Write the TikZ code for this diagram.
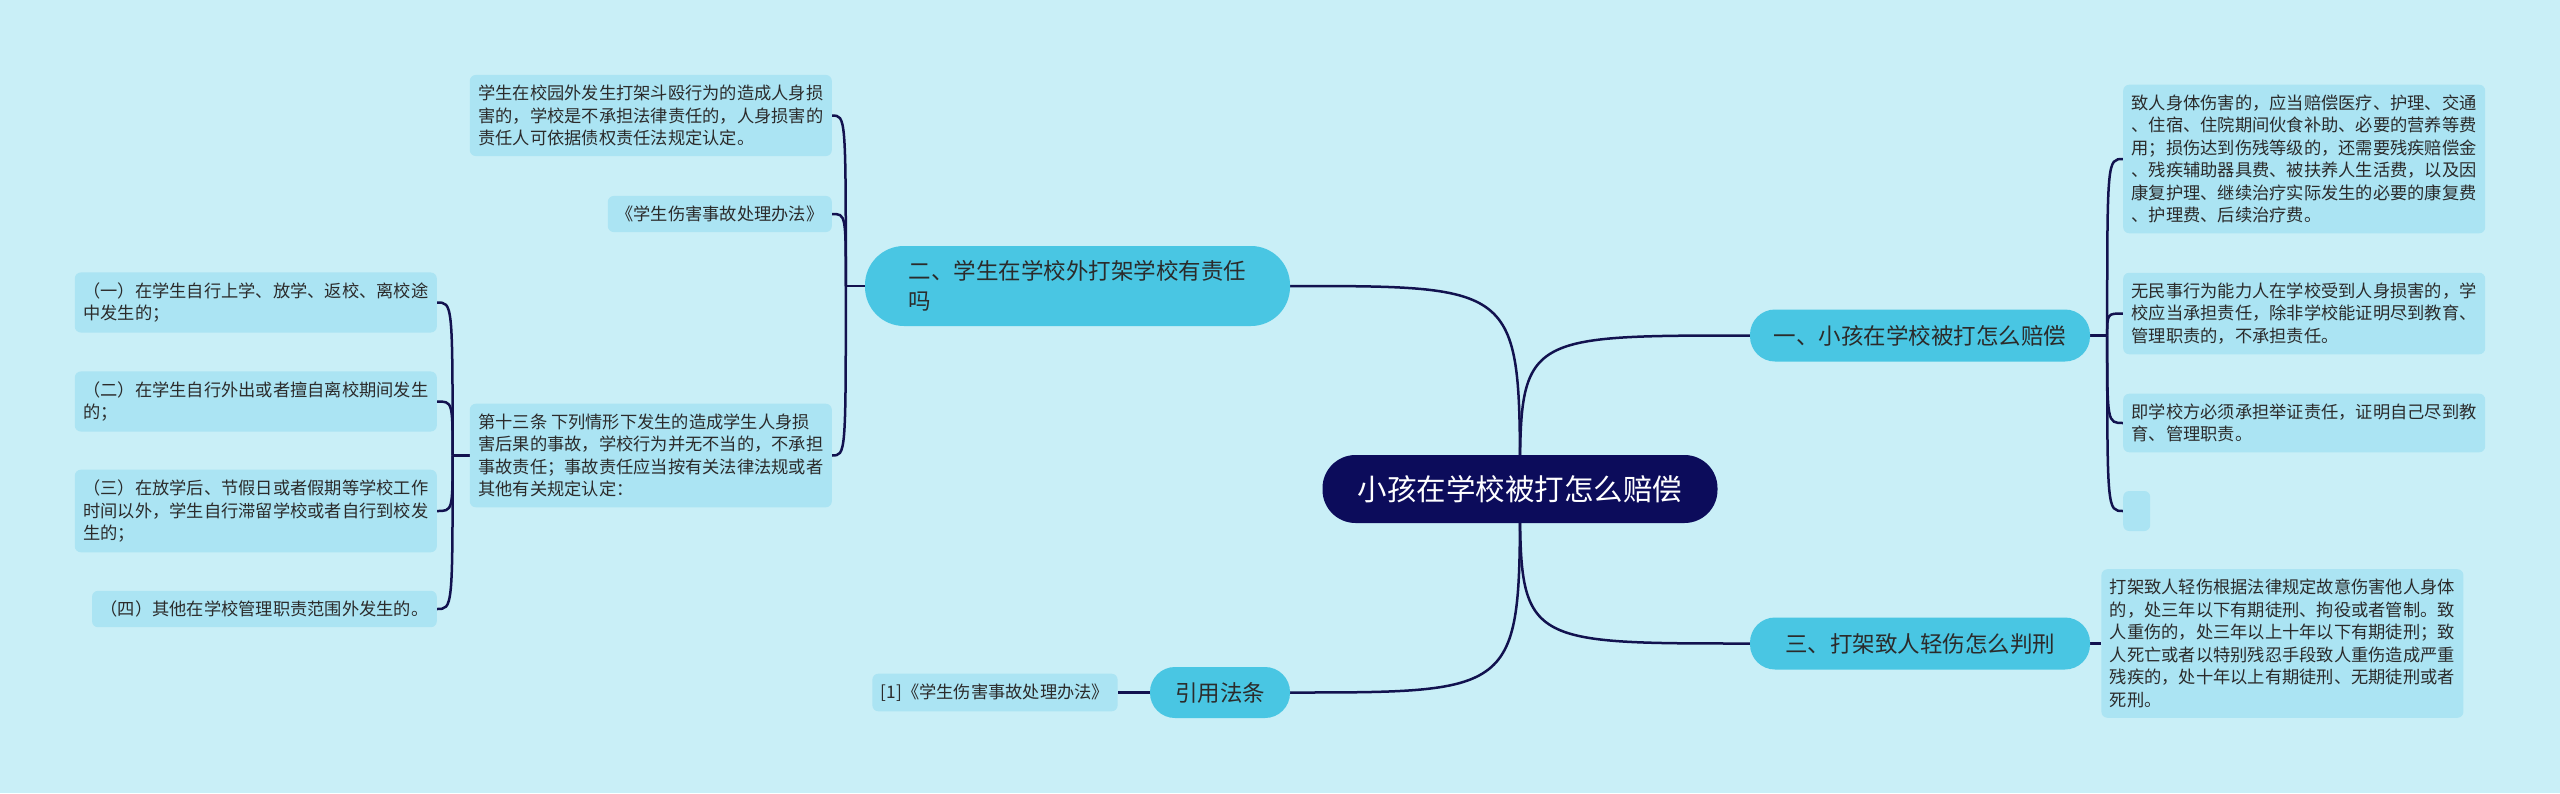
\documentclass[tikz,border=0pt]{standalone}
\usepackage{fontspec}
\setmainfont{Noto Sans CJK SC}
\usetikzlibrary{positioning,calc,backgrounds}
\definecolor{bgcol}{HTML}{C9EFF7}
\definecolor{leafcol}{HTML}{ABE4F3}
\definecolor{branchcol}{HTML}{49C6E3}
\definecolor{rootcol}{HTML}{0C0C5B}
\definecolor{linkcol}{HTML}{12124F}
\definecolor{txtcol}{HTML}{2B2B2B}

\begin{document}
\begin{tikzpicture}[
  x=1pt, y=-1pt,
  rootbox/.style={fill=rootcol, text=white, rounded corners=33pt, minimum width=395pt, minimum height=68pt, inner sep=0pt, font=\fontsize{29.5}{36}\selectfont},
  branchbox/.style={fill=branchcol, text=txtcol, rounded corners=25pt, minimum height=52pt, inner sep=0pt, align=left, font=\fontsize{22.5}{30}\selectfont},
  leafbox/.style={fill=leafcol, text=txtcol, rounded corners=6pt, inner xsep=8.5pt, inner ysep=10pt, align=left, font=\fontsize{17.25}{22.5}\selectfont},
  conn/.style={draw=linkcol, line width=2.5pt}
]
\useasboundingbox (0,0) rectangle (2560,793);

% ---- Center ----
\node[rootbox] (root) at (1520,489) {小孩在学校被打怎么赔偿};

% ---- Branches ----
\node[branchbox, minimum width=340pt] (b1) at (1920,335.5) {一、小孩在学校被打怎么赔偿};
\node[branchbox, minimum width=425pt, minimum height=80pt, rounded corners=39pt] (b2) at (1077.5,286) {二、学生在学校外打架学校有责任\\吗};
\node[branchbox, minimum width=340pt] (b3) at (1920,643.5) {三、打架致人轻伤怎么判刑};
\node[branchbox, minimum width=140pt, minimum height=51pt] (b4) at (1220,692.5) {引用法条};

% ---- Leaves: how to pay ----
\node[leafbox, anchor=west] (r1a) at (2123,159) {致人身体伤害的，应当赔偿医疗、护理、交通\\、住宿、住院期间伙食补助、必要的营养等费\\用；损伤达到伤残等级的，还需要残疾赔偿金\\、残疾辅助器具费、被扶养人生活费，以及因\\康复护理、继续治疗实际发生的必要的康复费\\、护理费、后续治疗费。};
\node[leafbox, anchor=west] (r1b) at (2123,313.5) {无民事行为能力人在学校受到人身损害的，学\\校应当承担责任，除非学校能证明尽到教育、\\管理职责的，不承担责任。};
\node[leafbox, anchor=west] (r1c) at (2123,423) {即学校方必须承担举证责任，证明自己尽到教\\育、管理职责。};
\node[leafbox, anchor=west, inner sep=0pt, minimum width=27pt, minimum height=40pt] (r1d) at (2123,511) {};

% ---- Leaves: outside school ----
\node[leafbox, anchor=east] (l2a) at (832,115.5) {学生在校园外发生打架斗殴行为的造成人身损\\害的，学校是不承担法律责任的，人身损害的\\责任人可依据债权责任法规定认定。};
\node[leafbox, anchor=east] (l2b) at (832,214) {《学生伤害事故处理办法》};
\node[leafbox, anchor=east] (l2c) at (832,455.5) {第十三条 下列情形下发生的造成学生人身损\\害后果的事故，学校行为并无不当的，不承担\\事故责任；事故责任应当按有关法律法规或者\\其他有关规定认定：};

\node[leafbox, anchor=east] (s1) at (437,302.5) {（一）在学生自行上学、放学、返校、离校途\\中发生的；};
\node[leafbox, anchor=east] (s2) at (437,401.5) {（二）在学生自行外出或者擅自离校期间发生\\的；};
\node[leafbox, anchor=east] (s3) at (437,511) {（三）在放学后、节假日或者假期等学校工作\\时间以外，学生自行滞留学校或者自行到校发\\生的；};
\node[leafbox, anchor=east] (s4) at (437,609) {（四）其他在学校管理职责范围外发生的。};

% ---- Leaves: sentencing, citation ----
\node[leafbox, right=11pt of b3] (r3a) {打架致人轻伤根据法律规定故意伤害他人身体\\的，处三年以下有期徒刑、拘役或者管制。致\\人重伤的，处三年以上十年以下有期徒刑；致\\人死亡或者以特别残忍手段致人重伤造成严重\\残疾的，处十年以上有期徒刑、无期徒刑或者\\死刑。};
\node[leafbox, left=32pt of b4] (cite) {[1]《学生伤害事故处理办法》};

% hubs
\coordinate (h1) at ($(b1.east)+(17,0)$);
\coordinate (h2) at ($(b2.west)+(-19,0)$);
\coordinate (h3) at ($(l2c.west)+(-17,0)$);

% edges
\begin{scope}[on background layer]
\fill[bgcol] (0,0) rectangle (2560,793);
\draw[conn] (root.center) .. controls (root.center |- b1.west) .. (b1.west);
\draw[conn] (root.center) .. controls (root.center |- b2.east) .. (b2.east);
\draw[conn] (root.center) .. controls (root.center |- b3.west) .. (b3.west);
\draw[conn] (root.center) .. controls (root.center |- b4.east) .. (b4.east);

\draw[conn] (b1.east) -- (h1);
\draw[conn] (h1) .. controls (h1 |- r1a.west) .. (r1a.west);
\draw[conn] (h1) .. controls (h1 |- r1b.west) .. (r1b.west);
\draw[conn] (h1) .. controls (h1 |- r1c.west) .. (r1c.west);
\draw[conn] (h1) .. controls (h1 |- r1d.west) .. (r1d.west);

\draw[conn] (b2.west) -- (h2);
\draw[conn] (h2) .. controls (h2 |- l2a.east) .. (l2a.east);
\draw[conn] (h2) .. controls (h2 |- l2b.east) .. (l2b.east);
\draw[conn] (h2) .. controls (h2 |- l2c.east) .. (l2c.east);

\draw[conn] (l2c.west) -- (h3);
\draw[conn] (h3) .. controls (h3 |- s1.east) .. (s1.east);
\draw[conn] (h3) .. controls (h3 |- s2.east) .. (s2.east);
\draw[conn] (h3) .. controls (h3 |- s3.east) .. (s3.east);
\draw[conn] (h3) .. controls (h3 |- s4.east) .. (s4.east);

\draw[conn] (b3.east) -- (r3a.west);
\draw[conn] (b4.west) -- (cite.east);
\end{scope}
\end{tikzpicture}
\end{document}
